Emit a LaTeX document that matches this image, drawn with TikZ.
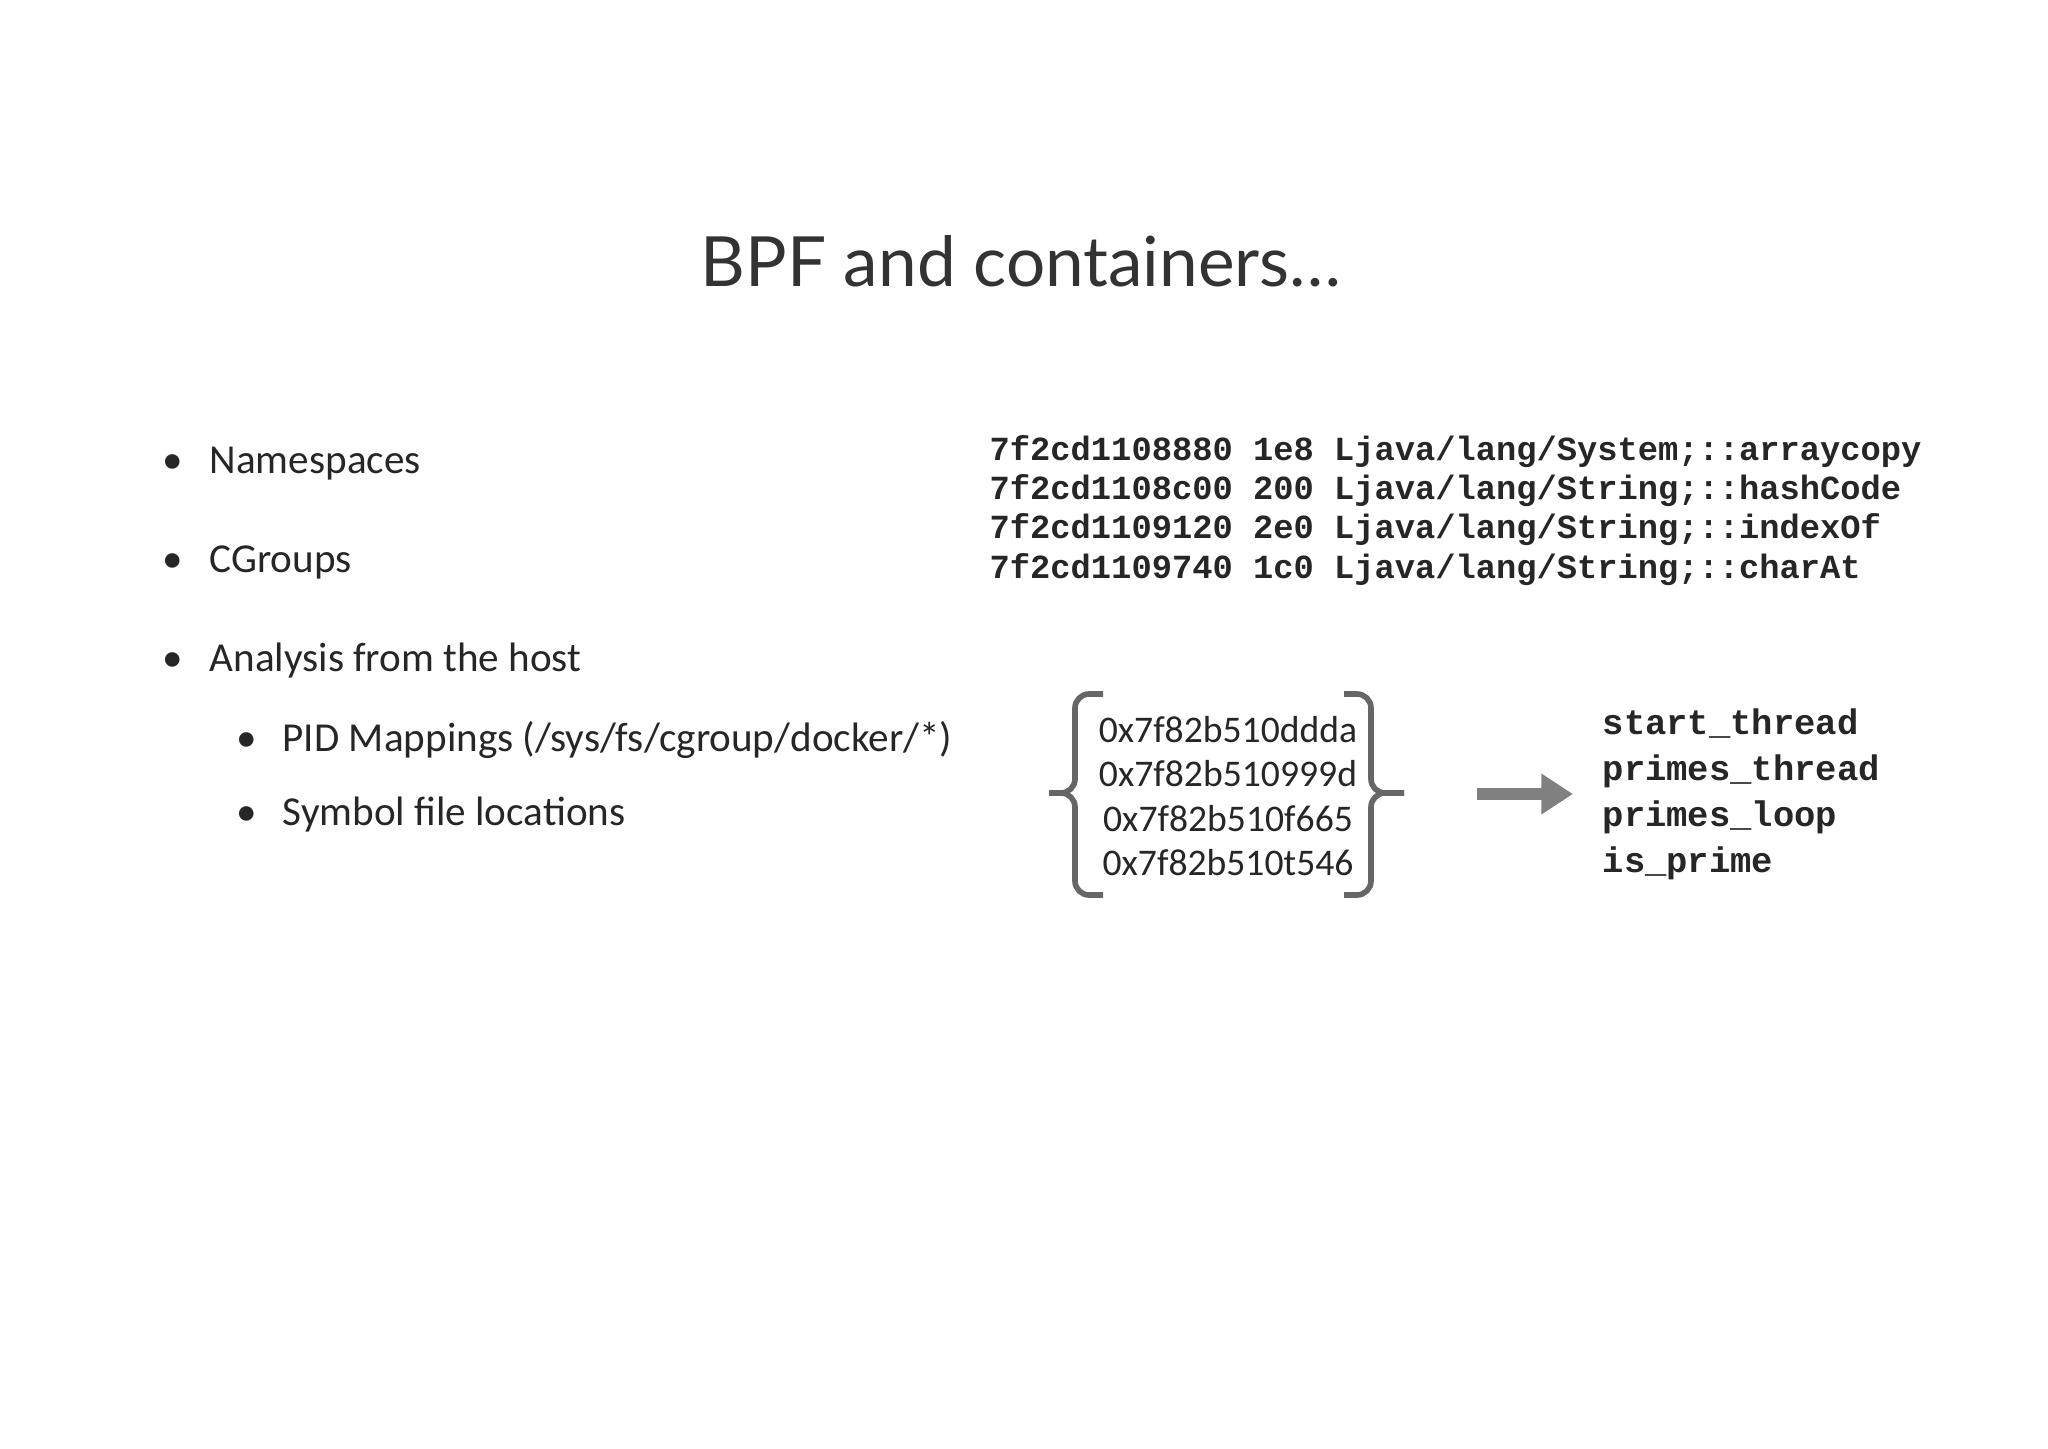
\documentclass[tikz,border=0pt]{standalone}
\usepackage{fontspec}
\usetikzlibrary{arrows.meta}
\setmainfont{Carlito}
\newfontfamily\bodyfont{Carlito}
\newfontfamily\titlefont{Lato}
\newfontfamily\codefont{Liberation Mono}
\begin{document}
\begin{tikzpicture}[x=0.01cm,y=-0.01cm,
  body/.style={anchor=base west,inner sep=0pt,font=\bodyfont\fontsize{11.7pt}{14pt}\selectfont,text=black!85},
  code/.style={anchor=base west,inner sep=0pt,font=\codefont\bfseries\fontsize{9.6pt}{12pt}\selectfont,text=black!85},
  sym/.style={anchor=base west,inner sep=0pt,font=\codefont\bfseries\fontsize{10.1pt}{12pt}\selectfont,text=black!85},
  hex/.style={anchor=base,inner sep=0pt,font=\bodyfont\fontsize{10.7pt}{13pt}\selectfont,text=black!85},
  brace/.style={draw=black!60,line width=1.6pt,rounded corners=4pt}]
\useasboundingbox (0,0) rectangle (2048,1448);
\node[inner sep=0pt,anchor=base,font=\titlefont\fontsize{19.7pt}{24pt}\selectfont,text=black!80] (title) at (1021,286) {BPF and containers\dots};
\node[body] (b1) at (209,473) {Namespaces};
\node[body] (b2) at (209,572) {CGroups};
\node[body] (b3) at (209,671) {Analysis from the host};
\node[body] (b4) at (282,751) {PID Mappings (/sys/fs/cgroup/docker/*)};
\node[body] (b5) at (282,825) {Symbol file locations};
\foreach \y in {473,572,671} \node[body] at (162,\y) {\textbullet};
\foreach \y in {751,825} \node[body] at (236,\y) {\textbullet};
\node[code] (c1) at (989,460) {7f2cd1108880 1e8 Ljava/lang/System;::arraycopy};
\node[code] (c2) at (989,499) {7f2cd1108c00 200 Ljava/lang/String;::hashCode};
\node[code] (c3) at (989,538) {7f2cd1109120 2e0 Ljava/lang/String;::indexOf};
\node[code] (c4) at (989,578) {7f2cd1109740 1c0 Ljava/lang/String;::charAt};
\node[hex] (h1) at (1228,742) {0x7f82b510ddda};
\node[hex] (h2) at (1228,786) {0x7f82b510999d};
\node[hex] (h3) at (1228,831) {0x7f82b510f665};
\node[hex] (h4) at (1228,875) {0x7f82b510t546};
\draw[brace] (1103,694) -- (1075,694) -- (1075,793) -- (1049,793);
\draw[brace] (1049,793) -- (1075,793) -- (1075,895) -- (1103,895);
\draw[brace] (1344,694) -- (1371,694) -- (1371,793) -- (1404,793);
\draw[brace] (1404,793) -- (1371,793) -- (1371,895) -- (1344,895);
\coordinate (a1) at (1477,794);
\coordinate (a2) at (1573,794);
\draw[draw=black!50,line width=3.5pt,-{Triangle[length=9pt,width=11pt]}] (a1) -- (a2);
\node[sym] (s1) at (1602,734) {start\_thread};
\node[sym] (s2) at (1602,780) {primes\_thread};
\node[sym] (s3) at (1602,826) {primes\_loop};
\node[sym] (s4) at (1602,872) {is\_prime};
\end{tikzpicture}
\end{document}
